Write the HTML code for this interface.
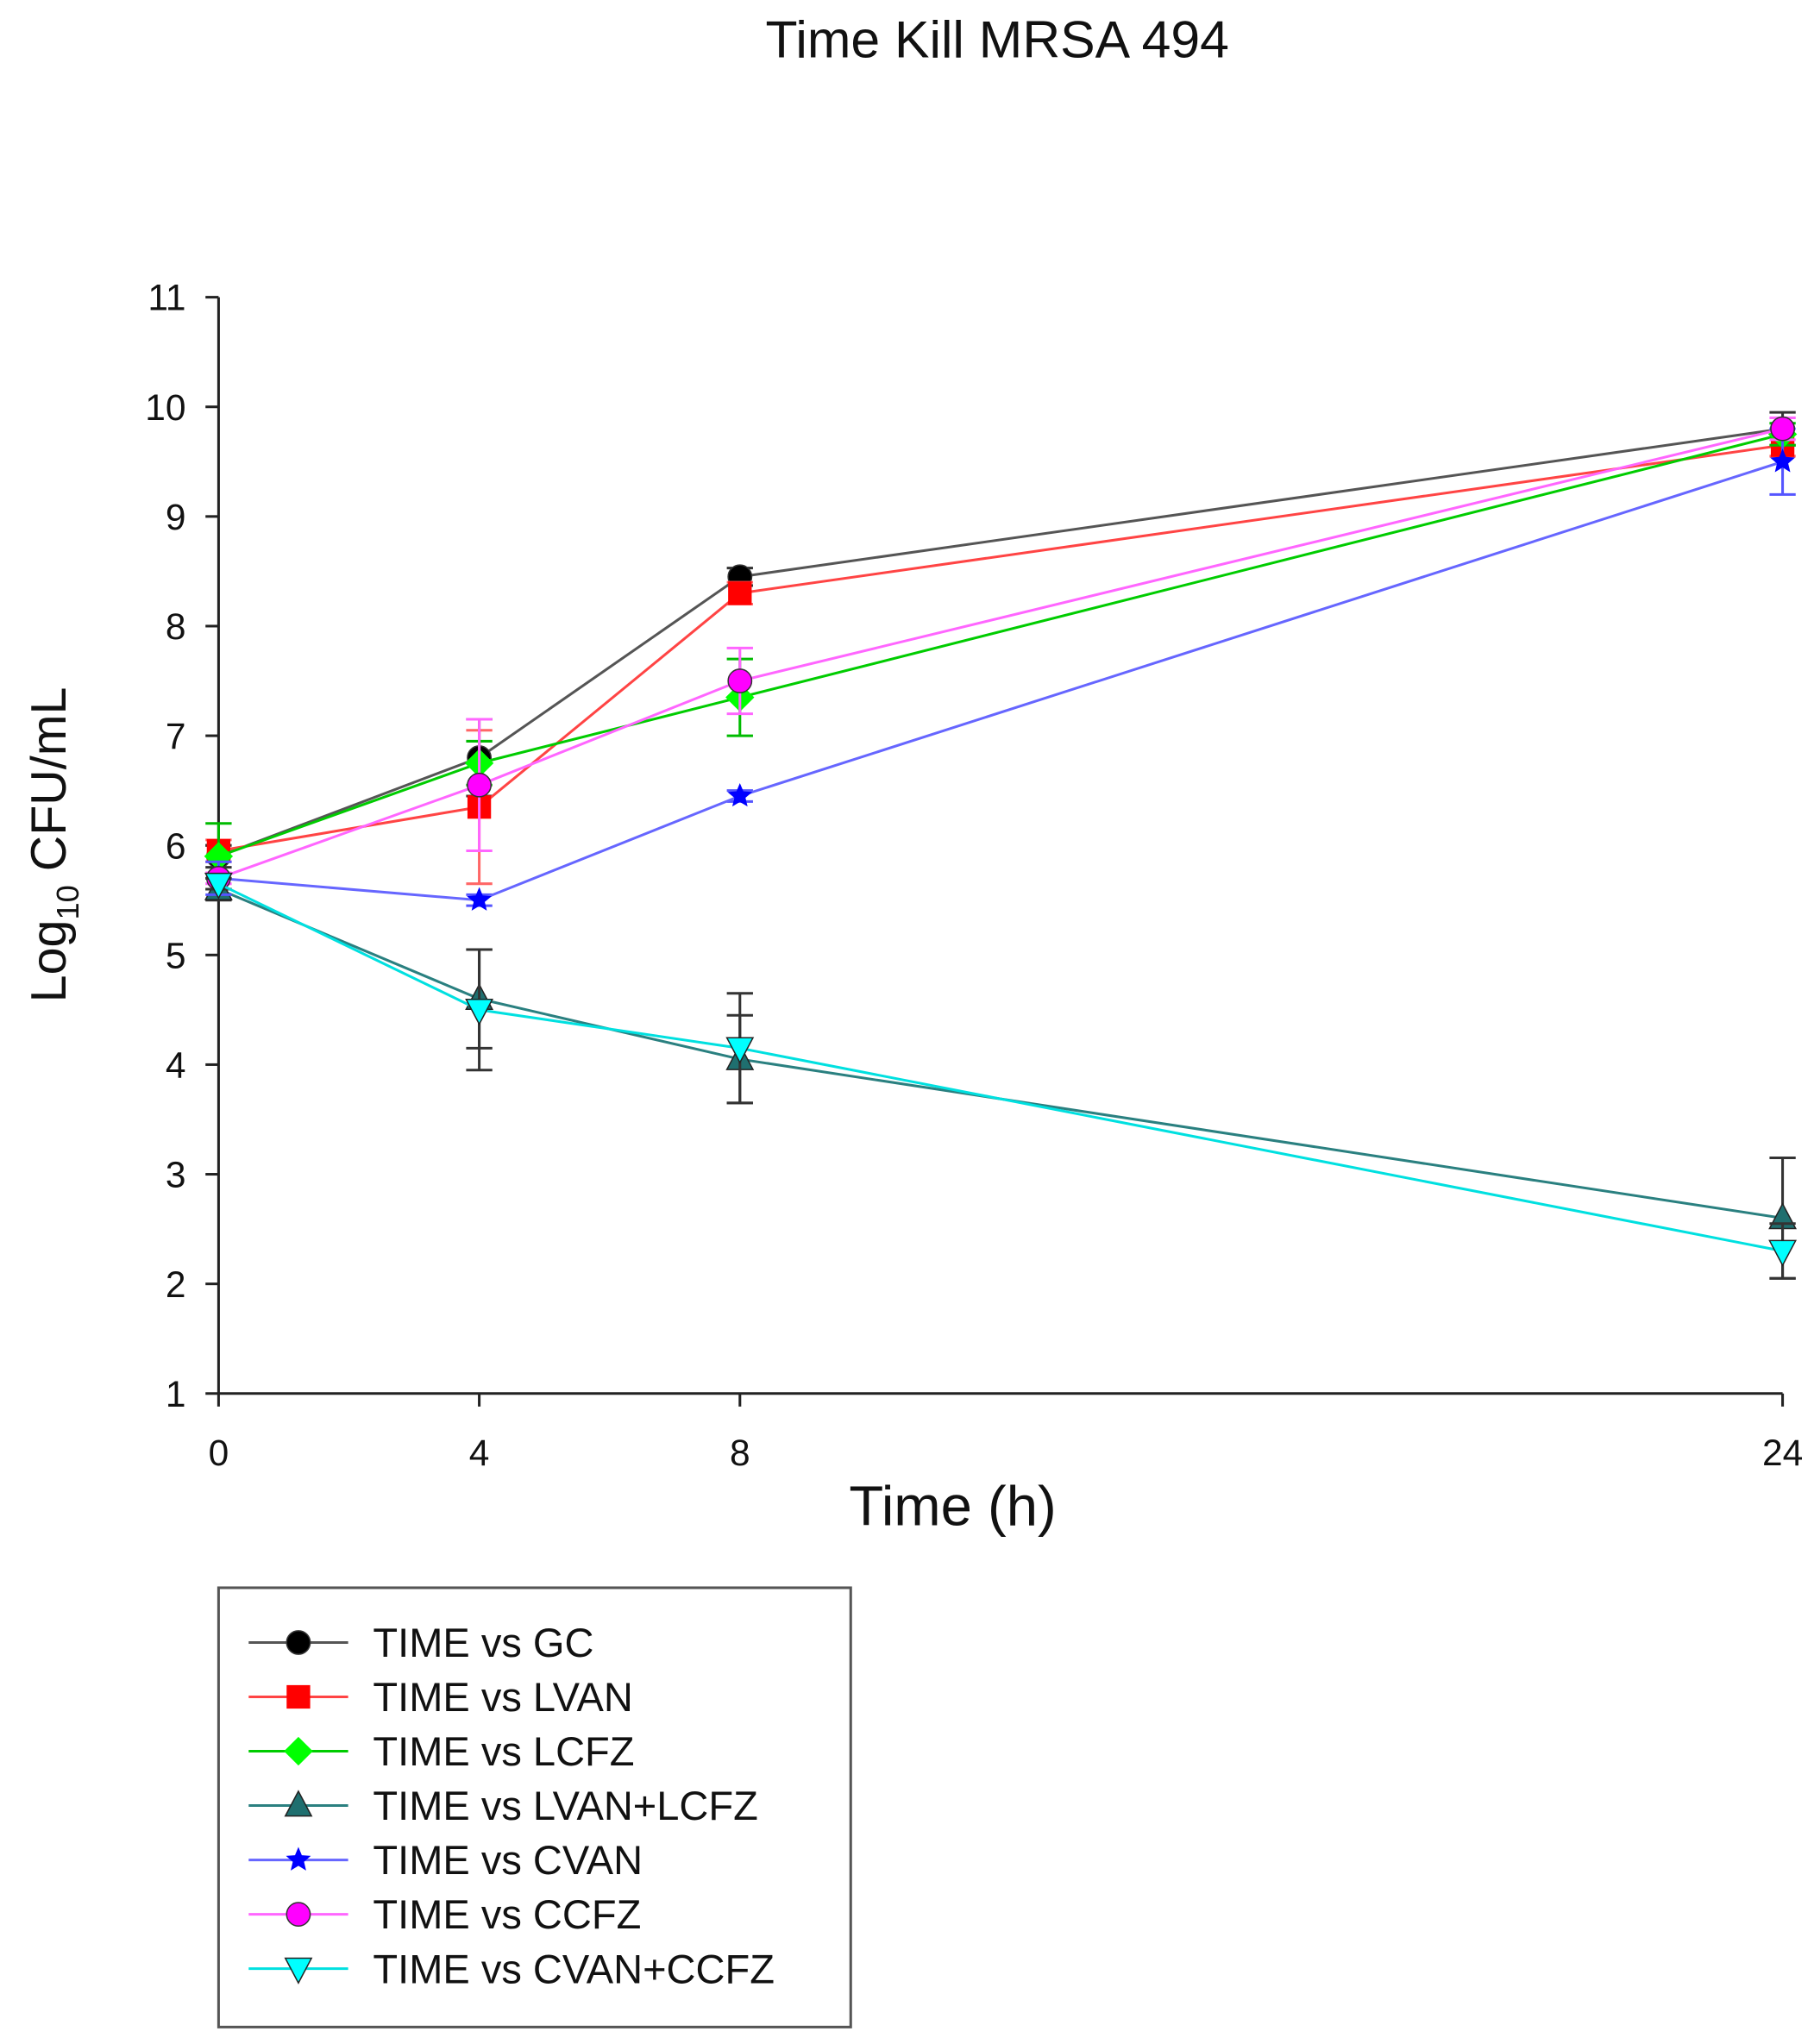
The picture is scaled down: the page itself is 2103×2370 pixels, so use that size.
<!DOCTYPE html>
<html><head><meta charset="utf-8"><style>
html,body{margin:0;padding:0;background:#fff;}
svg{display:block;font-family:"Liberation Sans",Arial,sans-serif;}
</style></head><body>
<svg id="chart" width="2103" height="2370" viewBox="0 0 1386 1568" preserveAspectRatio="none" xmlns="http://www.w3.org/2000/svg">
<text x="762" y="44" font-size="40" text-anchor="middle" fill="#111">Time Kill MRSA 494</text>
<g id="axes"></g>
<g id="series"></g>
<text x="728" y="1170" font-size="43" text-anchor="middle" fill="#111">Time (h)</text>
<text transform="translate(50,648) rotate(-90)" font-size="38" text-anchor="middle" fill="#111">Log<tspan font-size="24" dy="10">10</tspan><tspan dy="-10"> CFU/mL</tspan></text>
<rect x="167" y="1218" width="483" height="337" fill="#fff" stroke="#555" stroke-width="2"/>
<g id="legend"></g>
</svg>
<script>
const times=[0,4,8,24];
const xTicks=[0,4,8,24];
const yTicks=[1,2,3,4,5,6,7,8,9,10,11];
const seriesNames=["TIME vs GC","TIME vs LVAN","TIME vs LCFZ","TIME vs LVAN+LCFZ","TIME vs CVAN","TIME vs CCFZ","TIME vs CVAN+CCFZ"];
const gc=[5.9,6.8,8.45,9.8];
const lvan=[5.95,6.35,8.3,9.65];
const lcfz=[5.9,6.75,7.35,9.75];
const lvanLcfz=[5.6,4.6,4.05,2.6];
const cvan=[5.7,5.5,6.45,9.5];
const ccfz=[5.7,6.55,7.5,9.8];
const cvanCcfz=[5.65,4.5,4.15,2.3];
const gcErr=[0.1,0.35,0.08,0.15];
const lvanErr=[0.1,0.7,0.1,0.1];
const lcfzErr=[0.3,0.2,0.35,0.1];
const lvanLcfzErr=[0.1,0.45,0.4,0.55];
const cvanErr=[0.15,0.05,0.05,0.3];
const ccfzErr=[0.05,0.6,0.3,0.1];
const cvanCcfzErr=[0.05,0.55,0.5,0.25];

const NS="http://www.w3.org/2000/svg";
const X0=167,X1=1362,Y0=1069,Y1=228;
const sx=t=>X0+(t-0)/(24-0)*(X1-X0);
const sy=v=>Y0-(v-1)/(11-1)*(Y0-Y1);
function mk(tag,attrs,parent){const e=document.createElementNS(NS,tag);for(const k in attrs)e.setAttribute(k,attrs[k]);parent.appendChild(e);return e;}
const axes=document.getElementById('axes');
const yAxis=mk('line',{x1:X0,y1:Y1,x2:X0,y2:Y0,stroke:'#222','stroke-width':2},axes);


const xAxis=mk('line',{x1:X0,y1:Y0,x2:X1,y2:Y0,stroke:'#222','stroke-width':2},axes);


yTicks.forEach(v=>{
  mk('line',{x1:X0-10,y1:sy(v),x2:X0,y2:sy(v),stroke:'#222','stroke-width':2},axes);
  const t=mk('text',{x:X0-25,y:sy(v)+10,'font-size':28,'text-anchor':'end',fill:'#111'},axes);
  t.textContent=v;
  
  
});
xTicks.forEach(v=>{
  mk('line',{x1:sx(v),y1:Y0,x2:sx(v),y2:Y0+10,stroke:'#222','stroke-width':2},axes);
  const t=mk('text',{x:sx(v),y:Y0+55,'font-size':28,'text-anchor':'middle',fill:'#111'},axes);
  t.textContent=v;
  
  
});
const defs=[
 {v:gc,e:gcErr,c:'#555',ec:'#333',m:'circle',f:'#000',n:'gc'},
 {v:lvan,e:lvanErr,c:'#ff4444',ec:'#ff6666',m:'square',f:'#ff0000',n:'lvan'},
 {v:lcfz,e:lcfzErr,c:'#00cc00',ec:'#00bb00',m:'diamond',f:'#00ff00',n:'lcfz'},
 {v:lvanLcfz,e:lvanLcfzErr,c:'#2a8080',ec:'#333',m:'triup',f:'#1f6f6f',n:'lvan-lcfz'},
 {v:cvan,e:cvanErr,c:'#6666ff',ec:'#5555ff',m:'star',f:'#0000ff',n:'cvan'},
 {v:ccfz,e:ccfzErr,c:'#ff66ff',ec:'#ff66ff',m:'circle',f:'#ff00ff',n:'ccfz'},
 {v:cvanCcfz,e:cvanCcfzErr,c:'#00e0e0',ec:'#333',m:'tridown',f:'#00ffff',n:'cvan-ccfz'}
];
function marker(type,x,y,fill,parent){
  let e;const s=9;
  if(type==='circle')e=mk('circle',{cx:x,cy:y,r:s,fill:fill,stroke:'#333','stroke-width':1},parent);
  else if(type==='square')e=mk('rect',{x:x-s,y:y-s,width:2*s,height:2*s,fill:fill},parent);
  else if(type==='diamond')e=mk('polygon',{points:`${x},${y-11} ${x+11},${y} ${x},${y+11} ${x-11},${y}`,fill:fill},parent);
  else if(type==='triup')e=mk('polygon',{points:`${x},${y-11} ${x+10},${y+8} ${x-10},${y+8}`,fill:fill,stroke:'#222','stroke-width':1},parent);
  else if(type==='tridown')e=mk('polygon',{points:`${x-10},${y-8} ${x+10},${y-8} ${x},${y+11}`,fill:fill,stroke:'#222','stroke-width':1},parent);
  else {let p=[];for(let i=0;i<10;i++){const r=i%2?4.5:10,a=-Math.PI/2+i*Math.PI/5;p.push((x+r*Math.cos(a)).toFixed(1)+','+(y+r*Math.sin(a)).toFixed(1));}
    e=mk('polygon',{points:p.join(' '),fill:fill},parent);}
  return e;
}
const sg=document.getElementById('series');
defs.forEach(d=>{
  const g=mk('g',{},sg);
  
  
  times.forEach((t,i)=>{
    const x=sx(t),a=sy(d.v[i]+d.e[i]),b=sy(d.v[i]-d.e[i]);
    mk('line',{x1:x,y1:a,x2:x,y2:b,stroke:d.ec,'stroke-width':2},g);
    mk('line',{x1:x-10,y1:a,x2:x+10,y2:a,stroke:d.ec,'stroke-width':2},g);
    mk('line',{x1:x-10,y1:b,x2:x+10,y2:b,stroke:d.ec,'stroke-width':2},g);
  });
  const ln=mk('polyline',{points:times.map((t,i)=>sx(t)+','+sy(d.v[i])).join(' '),fill:'none',stroke:d.c,'stroke-width':2},g);
  
  
  times.forEach((t,i)=>{
    const m=marker(d.m,sx(t),sy(d.v[i]),d.f,g);
    
    
  });
});
const lg=document.getElementById('legend');
defs.forEach((d,i)=>{
  const y=1260+i*41.7;
  const g=mk('g',{},lg);
  
  
  mk('line',{x1:190,y1:y,x2:266,y2:y,stroke:d.c,'stroke-width':2},g);
  marker(d.m,228,y,d.f,g);
  const t=mk('text',{x:285,y:y+11,'font-size':31,fill:'#111'},g);
  t.textContent=seriesNames[i];
});
</script>
</body></html>
